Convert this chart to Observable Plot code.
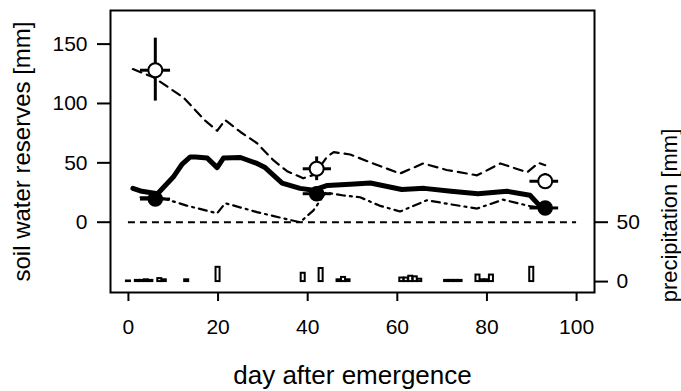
<!DOCTYPE html>
<html>
<head>
<meta charset="utf-8">
<script src="https://cdn.jsdelivr.net/npm/d3@7"></script>
<script src="https://cdn.jsdelivr.net/npm/@observablehq/plot@0.6"></script>
<style>
  html, body { margin: 0; padding: 0; background: #fff; }
</style>
</head>
<body>
<div id="chart"></div>
<script>
// ---- data ----
const dayTicks = [0, 20, 40, 60, 80, 100];
const soilTicks = [0, 50, 100, 150];
const precipTicks = [0, 50];
const precipBase = -50; // precipitation 0 sits at soil -50 on the shared scale

// simulated mean (thick solid)
const meanDay = [1, 3, 6.5, 10, 12, 13.8, 15, 17.6, 19.8, 21.2, 25, 28.7, 30.5, 34.3, 38.3, 41.3, 44.4, 49.5, 54, 61, 66, 72, 78, 84.5, 89.6, 91.5];
const meanVal = [28.5, 26, 24, 38, 49, 55, 55, 54, 46, 54, 54.5, 49.5, 46, 33, 28.5, 27, 31, 32, 33, 27.5, 28.5, 26, 24, 26, 22.7, 15];

// upper bound (dashed)
const upDay = [1, 5.6, 12.3, 17, 19.8, 21.6, 25, 28.7, 32.4, 35.4, 39, 41.5, 44.3, 45.8, 49.5, 54.6, 60.6, 65.8, 71, 77.8, 80.7, 83, 89, 91.5, 93];
const upVal = [129, 122, 105, 86, 77, 86, 76, 66.5, 52, 43, 37, 40, 55, 59, 57, 49.5, 41, 49.5, 44, 39.5, 45, 49.5, 42, 50, 48];

// lower bound (dash-dot)
const loDay = [2.7, 7, 13, 19.8, 21.6, 28.7, 35.4, 38.3, 41.3, 44, 48, 51.7, 56, 60.6, 66.6, 72, 77.8, 83.6, 89.6, 91.5];
const loVal = [21, 21, 14, 7.5, 16, 8.5, 2.5, 0, 10, 25, 22.5, 21, 14, 9, 18.5, 15, 11.5, 19, 13.5, 12.5];

// observations
const obsDay = [6, 42, 93];
const obsDayLo = [2.7, 39, 89.6];
const obsDayHi = [9.4, 45.3, 96];
const obsOpen = [128, 45, 34.5];
const obsOpenLo = [102, 35, 28.5];
const obsOpenHi = [155, 55, 41];
const obsFilled = [19.5, 24, 12];

// daily precipitation [mm]
const precipDay = [0, 2, 3, 4, 5, 7, 8, 13, 20, 39, 43, 47, 48, 49, 61, 62, 63, 64, 65, 71, 72, 73, 74, 78, 79, 80, 81, 90];
const precipMm  = [0.5, 1, 1, 1.5, 1, 2.5, 1.5, 1.5, 12, 7, 11, 1.5, 3.5, 1.5, 3, 3, 4.5, 4, 2, 1, 1, 1, 1, 5.5, 1.5, 1.5, 5.5, 12];

// ---- tables ----
const mean = meanDay.map((d, i) => ({day: d, v: meanVal[i]}));
const upper = upDay.map((d, i) => ({day: d, v: upVal[i]}));
const lower = loDay.map((d, i) => ({day: d, v: loVal[i]}));
const obs = obsDay.map((d, i) => ({
  day: d, dlo: obsDayLo[i], dhi: obsDayHi[i],
  open: obsOpen[i], lo: obsOpenLo[i], hi: obsOpenHi[i], filled: obsFilled[i]
}));
const precip = precipDay.map((d, i) => ({day: d, p: precipMm[i]}));

const chart = Plot.plot({
  width: 681,
  height: 391,
  marginLeft: 110,
  marginRight: 87,
  marginTop: 10,
  marginBottom: 99,
  style: {fontFamily: "'Liberation Sans', Arial, Helvetica, sans-serif", fontSize: "21px", color: "#000", background: "#fff"},
  x: {domain: [-4, 104]},
  y: {domain: [-59.2, 178.3]},
  marks: [
    // precipitation bars
    Plot.rect(precip, {
      x1: d => d.day - 0.45, x2: d => d.day + 0.45,
      y1: precipBase, y2: d => d.p + precipBase,
      fill: "#fff", stroke: "#000", strokeWidth: 2
    }),
    // zero line
    Plot.ruleY([0], {x1: dayTicks[0], x2: dayTicks[dayTicks.length - 1], stroke: "#000", strokeWidth: 2, strokeDasharray: "7,5"}),
    // bounds and mean
    Plot.line(upper, {x: "day", y: "v", stroke: "#000", strokeWidth: 2.2, strokeDasharray: "9,6"}),
    Plot.line(lower, {x: "day", y: "v", stroke: "#000", strokeWidth: 2.2, strokeDasharray: "8,5,2,5"}),
    Plot.line(mean, {x: "day", y: "v", stroke: "#000", strokeWidth: 5, curve: "linear", strokeLinejoin: "round", strokeLinecap: "round"}),
    // error bars
    Plot.ruleX(obs, {x: "day", y1: "lo", y2: "hi", stroke: "#000", strokeWidth: 3}),
    Plot.ruleY(obs, {y: "open", x1: "dlo", x2: "dhi", stroke: "#000", strokeWidth: 3}),
    Plot.ruleY(obs, {y: "filled", x1: "dlo", x2: "dhi", stroke: "#000", strokeWidth: 3}),
    Plot.dot(obs, {x: "day", y: "filled", r: 7, fill: "#000", stroke: "#000"}),
    Plot.dot(obs, {x: "day", y: "open", r: 7, fill: "#fff", stroke: "#000", strokeWidth: 2}),
    // frame
    Plot.frame({stroke: "#000", strokeWidth: 2}),
    // axes
    Plot.axisY(soilTicks, {anchor: "left", tickSize: 13, tickPadding: 10, strokeWidth: 2, label: null}),
    Plot.text(["soil water reserves [mm]"], {frameAnchor: "left", dx: -88, rotate: -90, textAnchor: "middle", lineAnchor: "middle", fontSize: 24}),
    Plot.axisY(precipTicks.map(t => t + precipBase), {anchor: "right", tickSize: 13, tickPadding: 9, strokeWidth: 2,
      tickFormat: d => String(d - precipBase), label: null}),
    Plot.text(["precipitation [mm]"], {frameAnchor: "right", dx: 75, dy: 64, rotate: -90, textAnchor: "middle", lineAnchor: "middle", fontSize: 22}),
    Plot.axisX(dayTicks, {anchor: "bottom", tickSize: 9, tickPadding: 18, strokeWidth: 2, label: null}),
    Plot.text(["day after emergence"], {frameAnchor: "bottom", dy: 83, textAnchor: "middle", lineAnchor: "middle", fontSize: 26}),
    // cut-off labels of the panel above
    Plot.text(dayTicks, {x: d => d, text: d => String(d), frameAnchor: "top", dy: -15, lineAnchor: "bottom", fontSize: 21})
  ]
});
document.getElementById("chart").appendChild(chart);
</script>
</body>
</html>
